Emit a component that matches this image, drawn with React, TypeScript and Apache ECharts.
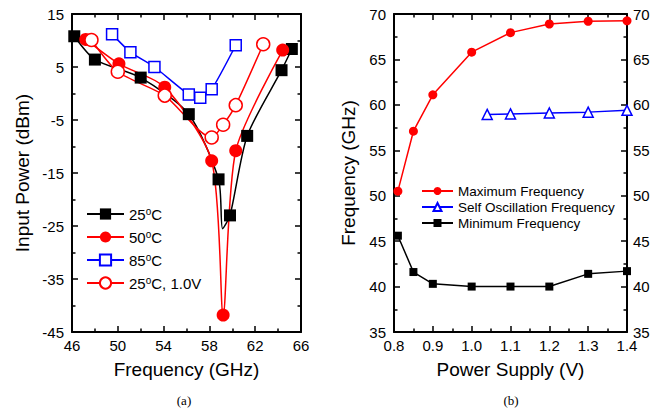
import React, { useEffect, useRef } from "react";
import * as echarts from "echarts";

// ---- Panel (a): Input power vs frequency ----
const s25: number[][] = [
  [46.2, 10.8], [48.0, 6.4], [52.0, 3.0], [56.2, -3.9], [58.8, -16.2],
  [59.15, -25.5], [59.8, -23.0], [61.3, -8.0], [64.3, 4.4], [65.2, 8.4],
];
const s25Hidden = [5]; // index of curve-only point (no marker)
const s50 = [
  [47.2, 10.2], [50.1, 5.6], [54.1, 1.2], [58.2, -12.7], [59.2, -41.8],
  [60.3, -10.8], [64.4, 8.2],
];
const s85 = [
  [49.5, 11.2], [51.1, 7.8], [53.2, 5.0], [56.2, -0.2], [57.2, -0.8],
  [58.2, 0.8], [60.3, 9.1],
];
const s25v = [
  [47.7, 10.1], [50.0, 4.1], [54.1, -0.4], [58.2, -8.3], [59.2, -5.9],
  [60.3, -2.2], [62.7, 9.3],
];
const namesA = ["25{s|o}C", "50{s|o}C", "85{s|o}C", "25{s|o}C, 1.0V"];

// ---- Panel (b): Frequency vs power supply ----
const supplyMax = [0.81, 0.85, 0.9, 1.0, 1.1, 1.2, 1.3, 1.4];
const freqMax = [50.5, 57.1, 61.1, 65.8, 67.95, 68.9, 69.2, 69.25];
const supplySelf = [1.04, 1.1, 1.2, 1.3, 1.4];
const freqSelf = [58.95, 59.0, 59.1, 59.2, 59.4];
const supplyMin = [0.81, 0.85, 0.9, 1.0, 1.1, 1.2, 1.3, 1.4];
const freqMin = [45.6, 41.6, 40.3, 40.0, 40.0, 40.0, 41.4, 41.7];
const namesB = ["Maximum Frequency", "Self Oscillation Frequency", "Minimum Frequency"];

const FONT = "'Liberation Sans', Arial, sans-serif";
const SERIF = "'Liberation Serif', 'DejaVu Serif', serif";
const RED = "#ff0000";
const BLUE = "#0000ff";
const BLACK = "#000000";

export default function App() {
  const ref = useRef<HTMLDivElement>(null);
  useEffect(() => {
    if (!ref.current) return;
    const chart = echarts.init(ref.current, undefined, { renderer: "svg" });

    const axisLine = { show: true, onZero: false, lineStyle: { color: "#000", width: 2 } };
    const tick = { show: true, inside: true, length: 6, lineStyle: { color: "#000", width: 1.5 } };
    const minor = { show: true, splitNumber: 2, length: 3.5, lineStyle: { color: "#000", width: 1.5 } };
    const label = { color: "#000", fontSize: 15, fontFamily: FONT };
    const nameStyle = { color: "#000", fontSize: 19, fontFamily: FONT };

    const xA = { min: 46, max: 66, interval: 4 };
    const yA = { min: -45, max: 15, interval: 10 };
    const xB = { min: 0.8, max: 1.4, interval: 0.1 };
    const yB = { min: 35, max: 70, interval: 5 };

    const option: any = {
      animation: false,
      backgroundColor: "#fff",
      grid: [
        { left: 72, right: 365, top: 14, bottom: 79 },
        { left: 394, right: 39, top: 14, bottom: 79 },
      ],
      xAxis: [
        {
          type: "value", gridIndex: 0, position: "bottom", ...xA,
          axisLine, axisTick: tick, minorTick: minor, splitLine: { show: false },
          axisLabel: { ...label, margin: 6 },
          name: "Frequency (GHz)", nameLocation: "middle", nameGap: 28, nameTextStyle: nameStyle,
        },
        {
          type: "value", gridIndex: 0, position: "top", ...xA,
          axisLine, axisTick: tick, minorTick: minor, splitLine: { show: false },
          axisLabel: { show: false },
        },
        {
          type: "value", gridIndex: 1, position: "bottom", ...xB,
          axisLine, axisTick: tick, minorTick: minor, splitLine: { show: false },
          axisLabel: { ...label, margin: 6, formatter: (v: number) => v.toFixed(1) },
          name: "Power Supply (V)", nameLocation: "middle", nameGap: 28, nameTextStyle: nameStyle,
        },
        {
          type: "value", gridIndex: 1, position: "top", ...xB,
          axisLine, axisTick: tick, minorTick: minor, splitLine: { show: false },
          axisLabel: { show: false },
        },
      ],
      yAxis: [
        {
          type: "value", gridIndex: 0, position: "left", ...yA,
          axisLine, axisTick: tick, minorTick: minor, splitLine: { show: false },
          axisLabel: { ...label, margin: 8 },
          name: "Input Power (dBm)", nameLocation: "middle", nameGap: 40, nameTextStyle: nameStyle,
        },
        {
          type: "value", gridIndex: 0, position: "right", ...yA,
          axisLine, axisTick: tick, minorTick: minor, splitLine: { show: false },
          axisLabel: { show: false },
        },
        {
          type: "value", gridIndex: 1, position: "left", ...yB,
          axisLine, axisTick: tick, minorTick: minor, splitLine: { show: false },
          axisLabel: { ...label, margin: 8 },
          name: "Frequency (GHz)", nameLocation: "middle", nameGap: 36, nameTextStyle: nameStyle,
        },
        {
          type: "value", gridIndex: 1, position: "right", ...yB,
          axisLine, axisTick: tick, minorTick: minor, splitLine: { show: false },
          axisLabel: { ...label, margin: 6 },
        },
      ],
      legend: [
        {
          data: namesA, orient: "vertical", left: 86, top: 206, padding: 0,
          itemWidth: 37, itemHeight: 14, itemGap: 7,
          textStyle: {
            color: "#000", fontSize: 15, fontFamily: FONT, lineHeight: 16,
            rich: { s: { fontSize: 10, fontFamily: FONT, color: "#000", verticalAlign: "top", lineHeight: 6 } },
          },
        },
        {
          data: namesB, orient: "vertical", left: 421, top: 184, padding: 0,
          itemWidth: 31, itemHeight: 10, itemGap: 2,
          textStyle: { color: "#000", fontSize: 13.5, fontFamily: FONT, lineHeight: 14 },
        },
      ],
      series: [
        {
          name: namesA[0], type: "line", xAxisIndex: 0, yAxisIndex: 0,
          data: s25.map((p, i) => (s25Hidden.includes(i) ? { value: p, symbol: "none" } : p)),
          symbol: "rect", symbolSize: 12, smooth: 0.25,
          itemStyle: { color: BLACK }, lineStyle: { color: BLACK, width: 1.5 },
        },
        {
          name: namesA[1], type: "line", xAxisIndex: 0, yAxisIndex: 0, data: s50,
          symbol: "circle", symbolSize: 13, smooth: 0.25,
          itemStyle: { color: RED }, lineStyle: { color: RED, width: 1.5 },
        },
        {
          name: namesA[2], type: "line", xAxisIndex: 0, yAxisIndex: 0, data: s85,
          symbol: "rect", symbolSize: 11, smooth: 0.2,
          itemStyle: { color: "#fff", borderColor: BLUE, borderWidth: 1.5 },
          lineStyle: { color: BLUE, width: 1.5 },
        },
        {
          name: namesA[3], type: "line", xAxisIndex: 0, yAxisIndex: 0, data: s25v,
          symbol: "circle", symbolSize: 13, smooth: 0.25,
          itemStyle: { color: "#fff", borderColor: RED, borderWidth: 1.5 },
          lineStyle: { color: RED, width: 1.5 },
        },
        {
          name: namesB[0], type: "line", xAxisIndex: 2, yAxisIndex: 2,
          data: supplyMax.map((x, i) => [x, freqMax[i]]),
          symbol: "circle", symbolSize: 9,
          itemStyle: { color: RED }, lineStyle: { color: RED, width: 1.5 },
        },
        {
          name: namesB[1], type: "line", xAxisIndex: 2, yAxisIndex: 2,
          data: supplySelf.map((x, i) => [x, freqSelf[i]]),
          symbol: "triangle", symbolSize: 10,
          itemStyle: { color: "#fff", borderColor: BLUE, borderWidth: 1.5 },
          lineStyle: { color: BLUE, width: 1.5 },
        },
        {
          name: namesB[2], type: "line", xAxisIndex: 2, yAxisIndex: 2,
          data: supplyMin.map((x, i) => [x, freqMin[i]]),
          symbol: "rect", symbolSize: 8,
          itemStyle: { color: BLACK }, lineStyle: { color: BLACK, width: 1.5 },
        },
      ],
      graphic: [
        {
          type: "text", x: 184, y: 400,
          style: { text: "(a)", fill: "#000", font: `13px ${SERIF}`, align: "center", verticalAlign: "middle" },
        },
        {
          type: "text", x: 511, y: 400,
          style: { text: "(b)", fill: "#000", font: `13px ${SERIF}`, align: "center", verticalAlign: "middle" },
        },
      ],
    };
    chart.setOption(option);
    return () => chart.dispose();
  }, []);
  return (
    <div
      ref={ref}
      style={{ position: "fixed", left: 0, top: 0, width: 666, height: 411, background: "#fff" }}
    />
  );
}
